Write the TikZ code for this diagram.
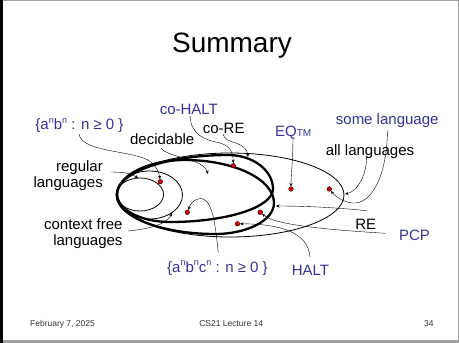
\documentclass[tikz,border=0pt]{standalone}
\usepackage{fontspec}
\setmainfont{Liberation Sans}
\usetikzlibrary{arrows.meta}
\definecolor{labblue}{RGB}{51,51,153}
\definecolor{dotred}{RGB}{230,0,0}
\definecolor{framegray}{RGB}{160,160,160}
\newcommand{\supn}{\raisebox{0.42em}{\fontsize{9}{9}\selectfont n}}
\begin{document}
\begin{tikzpicture}[x=1pt,y=-1pt,
  lab/.style={font=\fontsize{15}{17}\selectfont, inner sep=0pt},
  bluelab/.style={lab, text=labblue},
  foot/.style={font=\fontsize{8.5}{10}\selectfont, text=black!80, inner sep=0pt},
  setline/.style={line width=0.8pt},
  bigset/.style={line width=2.3pt},
  pin/.style={line width=0.4pt, -{Stealth[length=3.5pt,width=3pt]}},
  elem/.style={circle, draw=black, line width=0.4pt, fill=dotred, inner sep=0pt, minimum size=4.6pt}
]
\useasboundingbox (0,0) rectangle (459,343);
% slide frame
\fill[white] (0,0) rectangle (459,343);
\draw[framegray, line width=0.8pt] (0,0.8) -- (458.4,0.8) -- (458.4,343);
\fill[framegray] (0,340) rectangle (459,343);
\fill[black] (0,0) rectangle (3.2,343);

% title
\node[font=\fontsize{28}{32}\selectfont, inner sep=0pt, anchor=base] (title) at (232,52) {Summary};

% language classes
\draw[setline] (230,195) ellipse [x radius=114, y radius=42];
\draw[setline] (149.5,195) ellipse [x radius=33, y radius=24];
\draw[setline] (140,194.5) ellipse [x radius=23.5, y radius=16.5];
% co-RE: left (117,194), top (228,155), right (273,189), bottom (170,222)
\draw[bigset] (117,194) .. controls (117,172.5) and (166.7,155) .. (228,155)
  .. controls (252.8,155) and (273,170.2) .. (273,189)
  .. controls (273,207.2) and (226.9,222) .. (170,222)
  .. controls (140.7,222) and (117,209.5) .. cycle;
% RE: left (117,195), top (185,160), right (274,203), bottom (215,234)
\draw[bigset] (117,195) .. controls (117,175.7) and (147.5,160) .. (185,160)
  .. controls (234.1,160) and (274,179.3) .. (274,203)
  .. controls (274,220.1) and (247.6,234) .. (215,234)
  .. controls (160.9,234) and (117,216.5) .. cycle;

% example languages
\node[elem] (dab)   at (160.3,181.7) {};
\node[elem] (dcoh)  at (233.3,165.7) {};
\node[elem] (deq)   at (291,189) {};
\node[elem] (dsome) at (329.3,189) {};
\node[elem] (dabc)  at (187.3,212.3) {};
\node[elem] (dpcp)  at (260.3,212.3) {};
\node[elem] (dhalt) at (237.5,223.8) {};

% labels
\node[bluelab, anchor=base] (lab) at (79.5,129.5) {\{a\supn b\supn\ : n ≥ 0 \}};
\node[bluelab, anchor=base] (lcoh) at (188.8,114) {co-HALT};
\node[lab, anchor=base] (lcore) at (223.7,133) {co-RE};
\node[lab, anchor=base] (ldec) at (162.2,144.7) {decidable};
\node[bluelab, anchor=base west] (leq) at (275,136) {EQ\raisebox{-0.6pt}{\fontsize{10}{10}\selectfont TM}};
\node[bluelab, anchor=base] (lsome) at (387.2,124.5) {some language};
\node[lab, anchor=base] (lall) at (370,155.5) {all languages};
\node[lab, anchor=base east] (lreg) at (103,171) {regular};
\node[lab, anchor=base east] (lreg2) at (103,187) {languages};
\node[lab, anchor=base east] (lcf) at (122.7,229.5) {context free};
\node[lab, anchor=base east] (lcf2) at (122.7,245.3) {languages};
\node[lab, anchor=base] (lre) at (365.8,229.5) {RE};
\node[bluelab, anchor=base] (lpcp) at (414.5,240.5) {PCP};
\node[bluelab, anchor=base] (labc) at (217.5,272) {\{a\supn b\supn c\supn\ : n ≥ 0 \}};
\node[bluelab, anchor=base] (lhalt) at (310.5,275) {HALT};

% footer
\node[foot, anchor=base] (fdate) at (62.5,326) {February 7, 2025};
\node[foot, anchor=base] (fcourse) at (231.2,326) {CS21 Lecture 14};
\node[foot, anchor=base] (fpage) at (428.8,326) {34};

% connector ends
\coordinate (sab) at (79,134);
\coordinate (sreg) at (111,172);
\coordinate (treg) at (138,178);
\coordinate (scf) at (128,231);
\coordinate (tcf) at (172,213);
\coordinate (sdec) at (161,148);
\coordinate (tdec) at (208,174);
\coordinate (scoh) at (190,116);
\coordinate (score) at (223,134);
\coordinate (tcore) at (248,157);
\coordinate (seq) at (293,138);
\coordinate (ssome) at (387.5,130);
\coordinate (sall) at (366.7,157);
\coordinate (tall) at (345,194);
\coordinate (sre) at (366.7,210.7);
\coordinate (tre) at (276,206);
\coordinate (spcp) at (386,233.3);
\coordinate (shalt) at (310,257);
\coordinate (sabc) at (218.3,252.5);

% connectors
\draw[pin] (sab) .. controls (82,152) and (128,150) .. (148,160) .. controls (156,165) and (159,172) .. (dab);
\draw[pin] (sreg) .. controls (125,172) and (132,174) .. (treg);
\draw[pin] (scf) .. controls (150,229) and (167,224) .. (tcf);
\draw[pin] (sdec) .. controls (168,158) and (203,158) .. (tdec);
\draw[pin] (scoh) .. controls (191,135) and (205,140) .. (220,143) .. controls (230,146) and (233,152) .. (dcoh);
\draw[pin] (score) .. controls (225,145) and (246,140) .. (tcore);
\draw[pin] (seq) .. controls (293,160) and (291,175) .. (deq);
\draw[pin] (ssome) .. controls (387,175) and (372,205) .. (352,203) .. controls (343,202) and (335,196) .. (dsome);
\draw[pin] (sall) .. controls (366,180) and (355,192) .. (tall);
\draw[pin] (sre) .. controls (330,207) and (300,206) .. (tre);
\draw[pin] (spcp) .. controls (330,230) and (275,225) .. (dpcp);
\draw[pin] (shalt) .. controls (308,232) and (280,224) .. (dhalt);
\draw[pin] (sabc) .. controls (215,222) and (212,195) .. (198,199) .. controls (193,200) and (190,205) .. (dabc);
\end{tikzpicture}
\end{document}
